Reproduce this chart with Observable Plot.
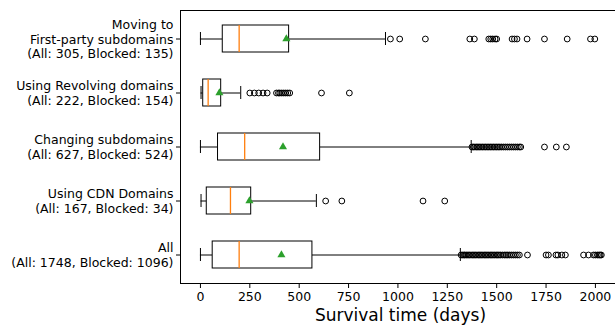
<!DOCTYPE html>
<html>
<head>
<meta charset="utf-8">
<script src="https://cdn.jsdelivr.net/npm/d3@7"></script>
<script src="https://cdn.jsdelivr.net/npm/@observablehq/plot@0.6"></script>
<style>
  html, body { margin: 0; padding: 0; background: white; overflow: hidden; }
  #chart svg { display: block; max-width: none !important; }
</style>
</head>
<body>
<div id="chart"></div>
<script>
const categories = [
  "Moving to\nFirst-party subdomains\n(All: 305, Blocked: 135)",
  "Using Revolving domains\n(All: 222, Blocked: 154)",
  "Changing subdomains\n(All: 627, Blocked: 524)",
  "Using CDN Domains\n(All: 167, Blocked: 34)",
  "All\n(All: 1748, Blocked: 1096)"
];
const whiskerLow  = [0, 3, 0, 3, 0];
const q1          = [113, 14, 89, 32, 62];
const medians     = [196, 39, 224, 152, 196];
const q3          = [449, 105, 606, 257, 567];
const whiskerHigh = [937, 204, 1371, 587, 1316];
const means       = [435, 96, 418, 248, 410];

const outliersFirstParty = [962, 1009, 1139, 1364, 1387, 1460, 1470, 1480, 1492, 1500, 1578, 1590, 1603, 1654, 1742, 1857, 1975, 1997];
const outliersRevolving = [250, 273, 295, 317, 338, 385, 395, 402, 412, 422, 432, 442, 452, 613, 754];
const outliersSubdomains = [1375, 1382, 1390, 1398, 1405, 1412, 1420, 1428, 1436, 1444, 1452, 1460, 1468, 1476, 1484, 1492, 1500, 1508, 1516, 1525, 1535, 1545, 1555, 1565, 1575, 1585, 1595, 1605, 1615, 1622, 1742, 1802, 1853];
const outliersCDN = [634, 716, 1127, 1237];
const outliersAll = [1320, 1328, 1335, 1340, 1348, 1355, 1362, 1370, 1378, 1385, 1392, 1400, 1408, 1415, 1422, 1430, 1438, 1445, 1452, 1460, 1468, 1475, 1482, 1490, 1498, 1505, 1512, 1520, 1530, 1540, 1548, 1556, 1565, 1575, 1585, 1595, 1605, 1615, 1656, 1750, 1762, 1800, 1810, 1830, 1848, 1940, 1965, 1990, 2000, 2010, 2018, 2024, 2030];
const xTicks = [0, 250, 500, 750, 1000, 1250, 1500, 1750, 2000];
const xLabel = "Survival time (days)";

const outlierLists = [outliersFirstParty, outliersRevolving, outliersSubdomains, outliersCDN, outliersAll];
const rows = categories.map((c, i) => ({
  cat: c, lo: whiskerLow[i], q1: q1[i], med: medians[i], q3: q3[i], hi: whiskerHigh[i], mean: means[i]
}));
const outliers = categories.flatMap((c, i) => outlierLists[i].map(v => ({cat: c, v})));

const chart = Plot.plot({
  width: 620,
  height: 328,
  marginLeft: 180,
  marginRight: 0,
  marginTop: 10,
  marginBottom: 45,
  style: {fontFamily: "DejaVu Sans", fontSize: "12.5px", color: "black", background: "white", maxWidth: "none"},
  x: {domain: [-101, 2127]},
  y: {domain: categories, paddingInner: 0.5, paddingOuter: 0.25},
  marks: [
    Plot.ruleY(rows, {y: "cat", x1: "lo", x2: "q1", stroke: "black", strokeWidth: 1}),
    Plot.ruleY(rows, {y: "cat", x1: "q3", x2: "hi", stroke: "black", strokeWidth: 1}),
    Plot.tickX(rows, {x: "lo", y: "cat", stroke: "black", insetTop: 7, insetBottom: 7}),
    Plot.tickX(rows, {x: "hi", y: "cat", stroke: "black", insetTop: 7, insetBottom: 7}),
    Plot.barX(rows, {x1: "q1", x2: "q3", y: "cat", fill: "white", stroke: "black", strokeWidth: 1}),
    Plot.tickX(rows, {x: "med", y: "cat", stroke: "#ff7f0e", strokeWidth: 1.3}),
    Plot.dot(outliers, {x: "v", y: "cat", r: 2.9, stroke: "black", strokeWidth: 1, fill: "none"}),
    Plot.dot(rows, {x: "mean", y: "cat", symbol: "triangle", fill: "#2ca02c", stroke: "none", r: 3}),
    Plot.frame({stroke: "black", strokeWidth: 1}),
    Plot.axisY({tickSize: 4, tickPadding: 3, fontSize: 12.5, lineHeight: 1.16, label: null}),
    Plot.axisX({ticks: xTicks, tickFormat: d => String(d), tickSize: 5, tickPadding: 3.5, fontSize: 12.5, label: null}),
    Plot.text([xLabel], {frameAnchor: "bottom", lineAnchor: "top", dy: 25, fontSize: 17, fill: "black"})
  ]
});
document.getElementById("chart").appendChild(chart);
</script>
</body>
</html>
